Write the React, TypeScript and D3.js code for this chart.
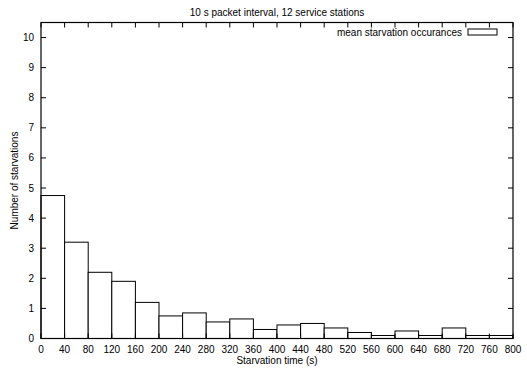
import React from "react";
import * as d3 from "d3";

const binStarts = [0, 40, 80, 120, 160, 200, 240, 280, 320, 360, 400, 440, 480, 520, 560, 600, 640, 680, 720, 760];
const binWidth = 40;
const values = [4.75, 3.2, 2.2, 1.9, 1.2, 0.75, 0.85, 0.55, 0.65, 0.3, 0.45, 0.5, 0.35, 0.2, 0.1, 0.25, 0.1, 0.35, 0.1, 0.1];
const xTicks = d3.range(0, 801, 40);
const yTicks = d3.range(0, 11, 1);
const title = "10 s packet interval, 12 service stations";
const xLabel = "Starvation time (s)";
const yLabel = "Number of starvations";
const legendLabel = "mean starvation occurances";

const W = 527, H = 371;
const M = { left: 41, right: 14, top: 22.5, bottom: 32.5 };

export default function App() {
  const x = d3.scaleLinear().domain([0, 800]).range([M.left, W - M.right]);
  const y = d3.scaleLinear().domain([0, 10.5]).range([H - M.bottom, M.top]);
  const font = "'Liberation Sans', Arial, Helvetica, sans-serif";
  const tk = 5;
  const y0 = y(0);
  return (
    <svg width={W} height={H} style={{ position: "fixed", left: 0, top: 0, background: "#fff" }} fontFamily={font}>
      <rect x={0} y={0} width={W} height={H} fill="#fff" />
      {binStarts.map((b, i) => (
        <rect key={i} x={x(b)} y={y(values[i])} width={x(b + binWidth) - x(b)} height={y0 - y(values[i])}
          fill="#fff" stroke="#000" strokeWidth={1} />
      ))}
      {xTicks.map((t) => (
        <g key={"x" + t}>
          <line x1={x(t)} x2={x(t)} y1={y0} y2={y0 - tk} stroke="#000" />
          <line x1={x(t)} x2={x(t)} y1={M.top} y2={M.top + tk} stroke="#000" />
          <text x={x(t)} y={y0 + 14} fontSize={10} textAnchor="middle" fill="#000">{t}</text>
        </g>
      ))}
      {yTicks.map((t) => (
        <g key={"y" + t}>
          <line x1={M.left} x2={M.left + tk} y1={y(t)} y2={y(t)} stroke="#000" />
          <line x1={W - M.right} x2={W - M.right - tk} y1={y(t)} y2={y(t)} stroke="#000" />
          <text x={M.left - 7} y={y(t) + 3.5} fontSize={10} textAnchor="end" fill="#000">{t}</text>
        </g>
      ))}
      <rect x={M.left} y={M.top} width={W - M.left - M.right} height={y0 - M.top} fill="none" stroke="#000" strokeWidth={1.2} />
      <text x={(M.left + W - M.right) / 2} y={16} fontSize={10} textAnchor="middle" fill="#000">{title}</text>
      <text x={(M.left + W - M.right) / 2} y={364} fontSize={10} textAnchor="middle" fill="#000">{xLabel}</text>
      <text transform={`translate(18,${(M.top + y0) / 2}) rotate(-90)`} fontSize={10} textAnchor="middle" fill="#000">{yLabel}</text>
      <text x={462} y={36} fontSize={10} textAnchor="end" fill="#000">{legendLabel}</text>
      <rect x={468} y={29} width={29} height={6} fill="#fff" stroke="#000" strokeWidth={1} />
    </svg>
  );
}
